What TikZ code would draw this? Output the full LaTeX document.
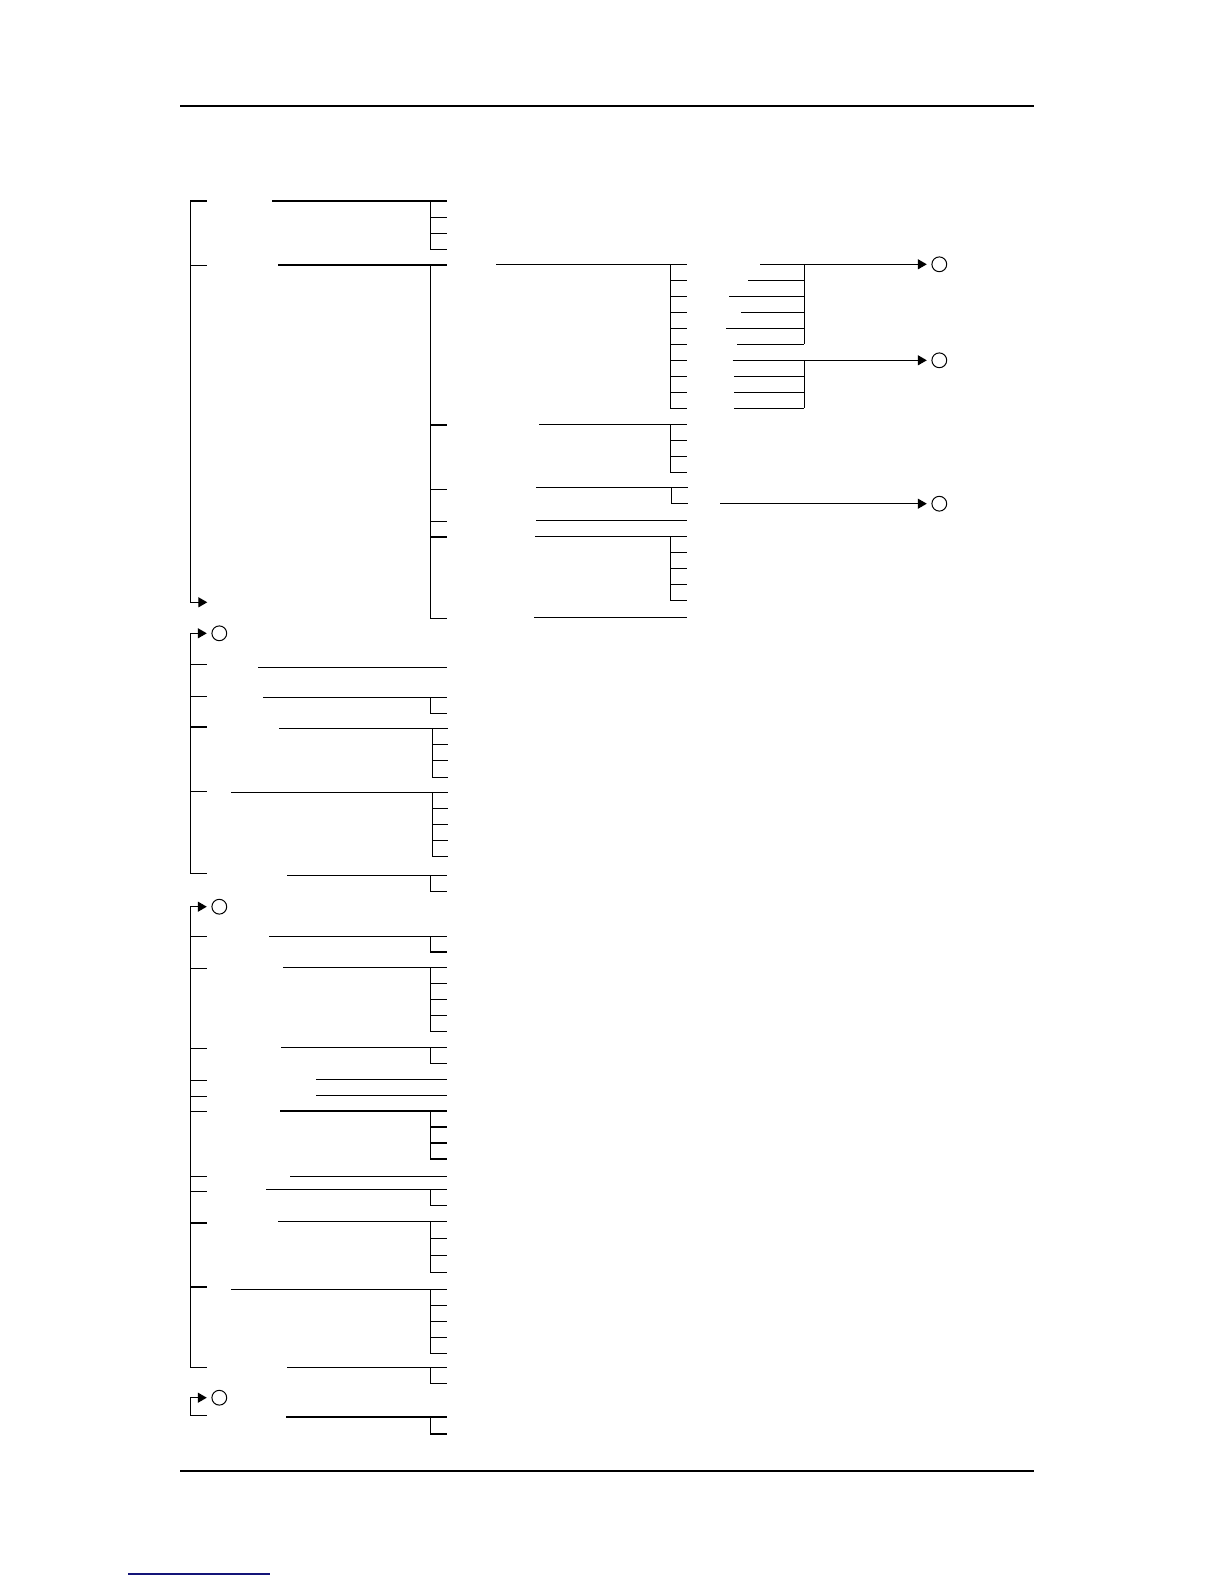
\documentclass[tikz,border=0pt]{standalone}
\usetikzlibrary{arrows.meta}
\definecolor{linkblue}{RGB}{20,20,120}
\newcommand\leafrow[3]{\draw[tree] (190.7,#1) -- (206.7,#1) (#2,#3) -- (446.7,#3);}
% stubY, lineStartX, lineY, vx, endX, lastChildY, otherChildren
\newcommand\grprow[7]{\draw[tree] (190.7,#1) -- (206.7,#1) (#2,#3) -- (#5,#3);
  \draw[tree] (#4,#3) |- (#5,#6);
  \foreach \c in {#7}{\draw[tree] (#4,\c) -- (#5,\c);}}
\begin{document}
\begin{tikzpicture}[x=0.5pt,y=-0.5pt,
  tree/.style={line width=0.65pt},
  tip/.style={-{Triangle[length=4.5pt,width=5pt]}},
  arr/.style={tree,tip,shorten >=2.3pt},
  circ/.style={circle,draw,line width=0.5pt,inner sep=0pt,minimum size=7.4pt}]
\useasboundingbox (0,0) rectangle (1224,1584);
% page rules
\draw[line width=1pt] (180,106) -- (1034,106);
\draw[line width=1pt] (180,1471) -- (1034,1471);
\draw[linkblue,line width=0.6pt] (128,1574) -- (270,1574);
% connector circles
\node[circ] (c1) at (939.3,264.3) {};
\node[circ] (c2) at (939.3,360.3) {};
\node[circ] (c3) at (939.3,503.7) {};
\node[circ] (s2) at (219.3,633.3) {};
\node[circ] (s3) at (219.3,906.7) {};
\node[circ] (s4) at (219.3,1397.7) {};
% ---------------- section 1
\draw[tree,tip] (206.7,201) -| (190.7,602.3) -- (207.3,602.3);
\draw[tree] (190.7,265.3) -- (206.7,265.3);
% branch A
\draw[tree] (272,201) -- (446.7,201);
\draw[tree] (430.3,201) |- (446.7,249.3);
\foreach \y in {217.3,233.3} \draw[tree] (430.3,\y) -- (446.7,\y);
% branch B
\draw[tree] (278,265) -- (446.7,265);
\draw[tree] (430.3,265) |- (446.7,618.3);
\foreach \y in {425,489.3,521.3,537} \draw[tree] (430.3,\y) -- (446.7,\y);
% B1
\draw[tree] (496,264.3) -- (686.7,264.3);
\draw[tree] (670.3,264.3) |- (686.7,408.3);
\foreach \y in {280.3,296.3,312.3,328.3,344.3,360.3,376.3,392.3} \draw[tree] (670.3,\y) -- (686.7,\y);
\foreach \y/\x in {264.3/760,280.3/748.3,296.3/729,312.3/741,328.3/726,344.3/737,
                   360.3/732.7,376.3/734,392.3/734,408.3/734}
  \draw[tree] (\x,\y) -- (804.3,\y);
\draw[tree] (804.3,264.3) -- (804.3,344.3);
\draw[tree] (804.3,360.3) -- (804.3,408.3);
\draw[arr] (804.3,264.3) -- (c1.west);
\draw[arr] (804.3,360.3) -- (c2.west);
% B2
\draw[tree] (539,424.3) -- (686.7,424.3);
\draw[tree] (670.3,424.3) |- (686.7,472.3);
\foreach \y in {440.3,456.3} \draw[tree] (670.3,\y) -- (686.7,\y);
% B3
\draw[tree] (536,487.3) -- (687.7,487.3);
\draw[tree] (671.7,487.3) |- (687.7,503.3);
\coordinate (a3) at (720,503.7);
\draw[arr] (a3) -- (c3.west);
% B4
\draw[tree] (536,520.3) -- (686.7,520.3);
% B5
\draw[tree] (535,536.3) -- (686.7,536.3);
\draw[tree] (670.3,536.3) |- (686.7,600.3);
\foreach \y in {552.3,568.3,584.3} \draw[tree] (670.3,\y) -- (686.7,\y);
% B6
\draw[tree] (534,617.3) -- (686.7,617.3);
% ---------------- section 2
\draw[arr] (206.7,873.3) -- (190.7,873.3) |- (s2.west);
\leafrow{664.3}{258}{667.3}
\grprow{696.7}{263}{697.3}{430.3}{446.7}{713.3}{713.3}
\grprow{727}{279}{728.3}{432.7}{448}{777.3}{744.3,760.3}
\grprow{791.3}{231}{792.3}{432.7}{448}{856.3}{808.3,824.3,840.3}
\grprow{873.3}{287.3}{875.3}{430.3}{446.7}{891.3}{891.3}
% ---------------- section 3
\draw[arr] (206.7,1367.3) -- (190.7,1367.3) |- (s3.west);
\grprow{936.7}{269}{936.7}{430.3}{446.7}{952}{952}
\grprow{968.3}{283}{967.3}{430.3}{446.7}{1031.3}{983.3,999.3,1015.3}
\grprow{1048.3}{281}{1047.3}{430.3}{446.7}{1063.3}{1063.3}
\leafrow{1080.3}{316}{1079.3}
\leafrow{1096.3}{316}{1095.3}
\grprow{1111.7}{280}{1111}{430.3}{446.7}{1159}{1143}
\draw[line width=1.3pt] (430.3,1127) -- (446.7,1127);
\leafrow{1176.3}{290}{1176.3}
\grprow{1191.3}{266}{1189.3}{430.3}{446.7}{1205.3}{1205.3}
\grprow{1223}{278}{1221.3}{430.3}{446.7}{1272.3}{1238.3,1255.3}
\grprow{1287}{231}{1289.3}{430.3}{446.7}{1353.3}{1305.3,1321.3,1337.3}
\grprow{1367.3}{287}{1367.3}{430.3}{446.7}{1383.3}{1383.3}
% ---------------- section 4
\draw[arr] (206.7,1415.3) -- (190.7,1415.3) |- (s4.west);
\draw[tree] (286,1417) -- (446.7,1417);
\draw[tree] (430.3,1417) |- (446.7,1434);
\end{tikzpicture}
\end{document}
